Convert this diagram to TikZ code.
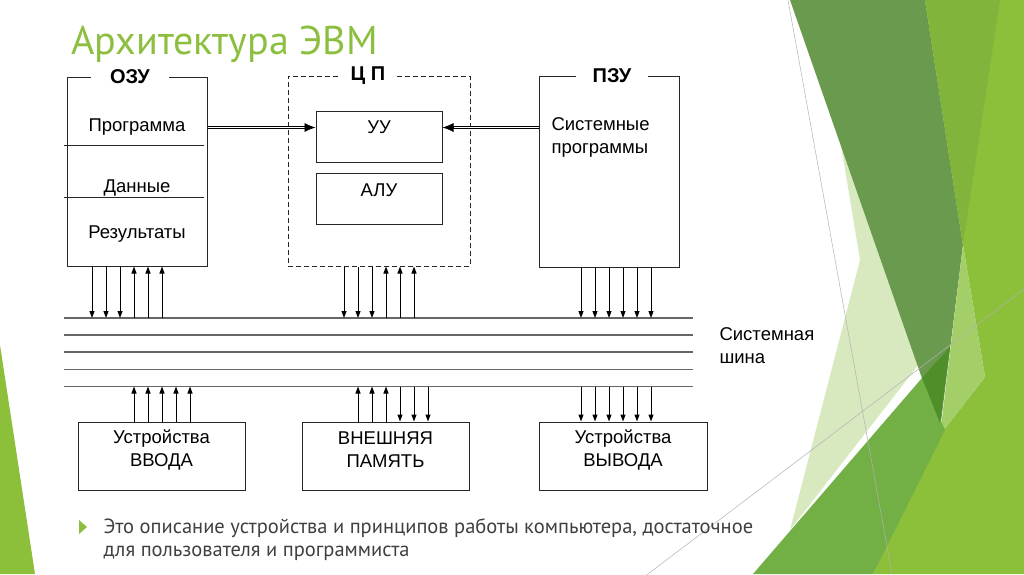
\documentclass[tikz,border=0pt]{standalone}
\usepackage{fontspec}
\setmainfont{Liberation Sans}
\newfontfamily\slidefont{PT Sans}
\usetikzlibrary{positioning,calc,arrows.meta}
\definecolor{titlegreen}{HTML}{8CBF3F}
\definecolor{textgray}{HTML}{404040}
\definecolor{leafpale}{HTML}{D8E9C0}
\definecolor{leafdark}{HTML}{6A9A4D}
\definecolor{leafbright}{HTML}{8DC03A}
\definecolor{leafmid}{HTML}{80B43A}
\definecolor{leaflow}{HTML}{72AF45}
\definecolor{leaflight}{HTML}{A3CE68}
\definecolor{leafdeep}{HTML}{4F8F2A}
\tikzset{
  box/.style={draw=black!85, line width=1pt, inner sep=0pt},
  tag/.style={fill=white, inner sep=0pt, minimum height=16pt, font=\bfseries\fontsize{20}{24}\selectfont},
  bus/.style={draw=black!60, line width=1.2pt},
  tobus/.style={line width=1pt, -{Triangle[length=7pt,width=5pt]}},
  dblline/.style={double, double distance=1.6pt, line width=0.7pt, shorten >=9pt},
  dbltip/.style={line width=0.7pt, -{Latex[length=11pt,width=9pt]}}
}
\begin{document}
\begin{tikzpicture}[x=1pt, y=-1pt, font=\fontsize{18.5}{23}\selectfont]
    \useasboundingbox (0,0) rectangle (1024,574);
    \begin{scope}
        \clip (0,0) rectangle (1024,574);
        \fill[leafpale] (836,115) -- (930,350) -- (790,530) -- (860,260) -- cycle;
        \fill[leafdark] (790,0) -- (925,0) -- (963,245) -- (940,430) -- cycle;
        \fill[leafbright] (925,0) -- (1024,0) -- (1024,574) -- (873,574) -- (940,435) -- (985,377) -- (963,245) -- cycle;
        \fill[leafmid] (925,0) -- (1000,0) -- (963,245) -- cycle;
        \fill[leaflight] (963,245) -- (985,377) -- (940,435) -- cycle;
        \fill[leaflow] (753,574) -- (922,378) -- (945,430) -- (873,574) -- cycle;
        \fill[leafdeep] (922,378) -- (950,347) -- (940,423) -- cycle;
        \fill[leafbright] (0,345) -- (35,574) -- (0,574) -- cycle;
        \draw[black!30, line width=0.5pt] (788,0) -- (892,574);
        \draw[black!30, line width=0.5pt] (640,580) -- (1024,289);
    \end{scope}

    \node[anchor=base west, text=titlegreen, font=\slidefont\fontsize{40}{44}\selectfont] (title) at (68,54) {Архитектура ЭВМ};

    \node[box, minimum width=140, minimum height=189] (ozu) at (137,171.5) {};
    \node[tag, minimum width=78] at (ozu.north -| 130,0) {ОЗУ};
    \draw[box] (ozu.west |- 0,145) ++(-3,0) -- ++(140,0);
    \draw[box] (ozu.west |- 0,197) ++(-3,0) -- ++(140,0);
    \node[anchor=base] (prog) at (137,131) {Программа};
    \node[anchor=base] (data) at (137,192) {Данные};
    \node[anchor=base] (res) at (137,238.5) {Результаты};

    \node[box, dashed, dash pattern=on 5pt off 3pt, minimum width=182, minimum height=190] (cpu) at (379,171) {};
    \node[tag, minimum width=55] at (cpu.north -| 368,0) {Ц П};
    \node[box, minimum width=126, minimum height=51, label={[yshift=9pt]center:УУ}] (uu) at (379,136.5) {};
    \node[box, minimum width=126, minimum height=51, below=10pt of uu, label={[yshift=8.5pt]center:АЛУ}] (alu) {};

    \node[box, minimum width=140, minimum height=191] (pzu) at (609,171.5) {};
    \node[tag, minimum width=72] at (pzu.north -| 612,0) {ПЗУ};
    \node[anchor=base west, align=left] (sysprog) at (548,153) {Системные\\программы};

    \coordinate (uuin) at ([yshift=9pt]uu.west);
    \coordinate (uuout) at ([yshift=9pt]uu.east);
    \draw[dblline] (ozu.east |- uuin) -- (uuin);
    \draw[dbltip] ([xshift=-11pt]uuin) -- (uuin);
    \draw[dblline] (pzu.west |- uuout) -- (uuout);
    \draw[dbltip] ([xshift=11pt]uuout) -- (uuout);

    \foreach \y/\n in {318/1,335/2,352/3,369.5/4,386.5/5}
        \coordinate (bus\n) at (64,\y);
    \foreach \n in {1,...,5}
        \draw[bus] (bus\n) -- ++(629,0);
    \node[anchor=base west, align=left] (buslabel) at (716,363) {Системная\\шина};

    \node[box, minimum width=167, minimum height=68, label={[align=center, yshift=6pt]center:Устройства\\ВВОДА}] (inp) at (161.5,456) {};
    \node[box, minimum width=167, minimum height=68, label={[align=center, yshift=6pt]center:ВНЕШНЯЯ\\ПАМЯТЬ}] (ext) at (385.5,456) {};
    \node[box, minimum width=168, minimum height=68, label={[align=center, yshift=6pt]center:Устройства\\ВЫВОДА}] (outp) at (623,456) {};

    \foreach \x in {92,106,120}
        \draw[tobus] (ozu.south -| \x,0) -- (bus1 -| \x,0);
    \foreach \x in {134,148,162}
        \draw[tobus] (bus1 -| \x,0) -- (ozu.south -| \x,0);
    \foreach \x in {344,358,372}
        \draw[tobus] (cpu.south -| \x,0) -- (bus1 -| \x,0);
    \foreach \x in {386,400,414}
        \draw[tobus] (bus1 -| \x,0) -- (cpu.south -| \x,0);
    \foreach \x in {581,595,609,623,637,651}
        \draw[tobus] (pzu.south -| \x,0) -- (bus1 -| \x,0);

    \foreach \x in {134,148,162,176,190}
        \draw[tobus] (inp.north -| \x,0) -- (bus5 -| \x,0);
    \foreach \x in {358,372,386}
        \draw[tobus] (ext.north -| \x,0) -- (bus5 -| \x,0);
    \foreach \x in {400,414,428}
        \draw[tobus] (bus5 -| \x,0) -- (ext.north -| \x,0);
    \foreach \x in {581,595,609,623,637,651}
        \draw[tobus] (bus5 -| \x,0) -- (outp.north -| \x,0);

    \fill[titlegreen] (79,520) -- (87,527) -- (79,534) -- cycle;
    \node[anchor=base west, align=left, text=textgray, font=\slidefont\fontsize{20.5}{23}\selectfont] (note) at (100,556) {Это описание устройства и принципов работы компьютера, достаточное\\для пользователя и программиста};
\end{tikzpicture}
\end{document}
